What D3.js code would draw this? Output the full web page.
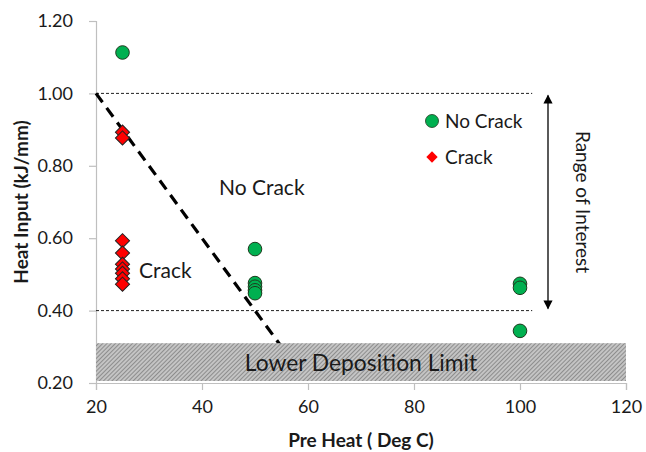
<!DOCTYPE html>
<html>
<head>
<meta charset="utf-8">
<script src="https://cdn.jsdelivr.net/npm/d3@7"></script>
<style>
  html, body { margin: 0; padding: 0; background: #fff; }
  svg { display: block; }
  text { font-family: Lato, "Open Sans", sans-serif; fill: #1a1a1a; }
</style>
</head>
<body>
<svg id="chart" width="646" height="452"></svg>
<script>
// Pre-heat temperature (deg C) and heat input (kJ/mm) for each weld trial
const noCrackX = [25, 50, 50, 50, 50, 50, 100, 100, 100];
const noCrackY = [1.113, 0.57, 0.476, 0.466, 0.456, 0.448, 0.474, 0.463, 0.344];
const crackX = [25, 25, 25, 25, 25, 25, 25, 25, 25];
const crackY = [0.893, 0.877, 0.593, 0.559, 0.528, 0.515, 0.503, 0.488, 0.473];

// Boundary line separating crack / no-crack regions
const boundaryX = [20, 60];
const boundaryY = [1.0, 0.2];

// Range of interest limits and deposition limit band
const rangeLimits = [1.0, 0.4];
const rangeEndX = 102.3;
const depositionBand = [0.2, 0.31];

const xTicks = [20, 40, 60, 80, 100, 120];
const yTicks = [0.2, 0.4, 0.6, 0.8, 1.0, 1.2];

const legendLabels = ["No Crack", "Crack"];

const W = 646, H = 452;
const margin = { top: 21, right: 20, bottom: 69, left: 96 };

const svg = d3.select("#chart");

const x = d3.scaleLinear().domain([20, 120]).range([margin.left, W - margin.right]);
const y = d3.scaleLinear().domain([0.2, 1.2]).range([H - margin.bottom, margin.top]);

// hatch pattern for the deposition band
const defs = svg.append("defs");
const pat = defs.append("pattern")
  .attr("id", "hatch")
  .attr("patternUnits", "userSpaceOnUse")
  .attr("width", 3).attr("height", 3)
  .attr("patternTransform", "rotate(45)");
pat.append("rect").attr("width", 3).attr("height", 3).attr("fill", "#c4c4c4");
pat.append("line").attr("x1", 0).attr("y1", 0).attr("x2", 0).attr("y2", 3)
  .attr("stroke", "#7a7a7a").attr("stroke-width", 1.5);

const arrowDefs = defs.append("marker")
  .attr("id", "arrowhead")
  .attr("viewBox", "0 0 10 10")
  .attr("refX", 9).attr("refY", 5)
  .attr("markerWidth", 7).attr("markerHeight", 7)
  .attr("orient", "auto-start-reverse");
arrowDefs.append("path").attr("d", "M0,0 L10,5 L0,10 Z").attr("fill", "#000");

// axes
const yAxis = svg.append("g")
  .attr("transform", `translate(${margin.left},0)`)
  .call(d3.axisLeft(y).tickValues(yTicks).tickFormat(d3.format(".2f")).tickSize(7).tickPadding(16));
const xAxis = svg.append("g")
  .attr("transform", `translate(0,${H - margin.bottom})`)
  .call(d3.axisBottom(x).tickValues(xTicks).tickFormat(d3.format("d")).tickSize(7).tickPadding(10));

[yAxis, xAxis].forEach(g => {
  g.select(".domain").attr("stroke", "#bfbfbf").attr("stroke-width", 1.2);
  g.selectAll(".tick line").attr("stroke", "#bfbfbf").attr("stroke-width", 1.2);
  g.selectAll(".tick text").style("font-size", "18px").attr("fill", "#1a1a1a");
});

// range-of-interest dotted lines
svg.selectAll("line.range")
  .data(rangeLimits)
  .join("line")
  .attr("class", "range")
  .attr("x1", x(20)).attr("x2", x(rangeEndX))
  .attr("y1", d => y(d)).attr("y2", d => y(d))
  .attr("stroke", "#222").attr("stroke-width", 1)
  .attr("stroke-dasharray", "3,2");

// boundary line
svg.append("line")
  .attr("x1", x(boundaryX[0])).attr("y1", y(boundaryY[0]))
  .attr("x2", x(boundaryX[1])).attr("y2", y(boundaryY[1]))
  .attr("stroke", "#000").attr("stroke-width", 3.2)
  .attr("stroke-dasharray", "11,7");

// lower deposition limit band
svg.append("rect")
  .attr("x", x(20)).attr("width", x(120) - x(20))
  .attr("y", y(depositionBand[1])).attr("height", y(depositionBand[0]) - y(depositionBand[1]) - 2)
  .attr("fill", "url(#hatch)");
svg.append("text")
  .attr("x", (x(20) + x(120)) / 2).attr("y", y((depositionBand[0] + depositionBand[1]) / 2) + 8)
  .attr("text-anchor", "middle")
  .style("font-size", "22.8px")
  .text("Lower Deposition Limit");

// double-headed arrow for range of interest
const arrowX = 548;
svg.append("line")
  .attr("x1", arrowX).attr("x2", arrowX)
  .attr("y1", y(rangeLimits[0]) + 2).attr("y2", y(rangeLimits[1]) - 2)
  .attr("stroke", "#000").attr("stroke-width", 1.3)
  .attr("marker-start", "url(#arrowhead)")
  .attr("marker-end", "url(#arrowhead)");
svg.append("text")
  .attr("transform", `translate(576,${(y(rangeLimits[0]) + y(rangeLimits[1])) / 2}) rotate(90)`)
  .attr("text-anchor", "middle")
  .style("font-size", "19px")
  .text("Range of Interest");

// region annotations
svg.append("text").attr("x", 219).attr("y", 195).style("font-size", "21px").text("No Crack");
svg.append("text").attr("x", 139).attr("y", 278).style("font-size", "21px").text("Crack");

// data markers
const circles = noCrackX.map((v, i) => ({ x: v, y: noCrackY[i] }));
const diamonds = crackX.map((v, i) => ({ x: v, y: crackY[i] }));
const diamondPath = d3.symbol().type(d3.symbolSquare).size(100);

svg.selectAll("path.crack")
  .data(diamonds)
  .join("path")
  .attr("class", "crack")
  .attr("transform", d => `translate(${x(d.x)},${y(d.y)}) rotate(45)`)
  .attr("d", diamondPath)
  .attr("fill", "#ff0000").attr("stroke", "#222").attr("stroke-width", 1);

svg.selectAll("circle.nocrack")
  .data(circles)
  .join("circle")
  .attr("class", "nocrack")
  .attr("cx", d => x(d.x)).attr("cy", d => y(d.y))
  .attr("r", 6.8)
  .attr("fill", "#00b050").attr("stroke", "#1e3a1e").attr("stroke-width", 1);

// legend
const legend = svg.append("g").attr("transform", "translate(432,121)");
legend.append("circle").attr("cx", 0).attr("cy", 0).attr("r", 6.5)
  .attr("fill", "#00b050").attr("stroke", "#1e3a1e").attr("stroke-width", 0.8);
legend.append("path").attr("transform", "translate(0,36) rotate(45)")
  .attr("d", d3.symbol().type(d3.symbolSquare).size(64))
  .attr("fill", "#ff0000");
legend.selectAll("text")
  .data(legendLabels)
  .join("text")
  .attr("x", 13).attr("y", (d, i) => i * 36 + 7)
  .style("font-size", "19px")
  .text(d => d);

// axis titles
svg.append("text")
  .attr("transform", `translate(28,${(y(0.2) + y(1.2)) / 2}) rotate(-90)`)
  .attr("text-anchor", "middle")
  .style("font-size", "19px").style("font-weight", "bold")
  .text("Heat Input (kJ/mm)");
svg.append("text")
  .attr("x", (x(20) + x(120)) / 2).attr("y", 447)
  .attr("text-anchor", "middle")
  .style("font-size", "19px").style("font-weight", "bold")
  .text("Pre Heat ( Deg C)");
</script>
</body>
</html>
